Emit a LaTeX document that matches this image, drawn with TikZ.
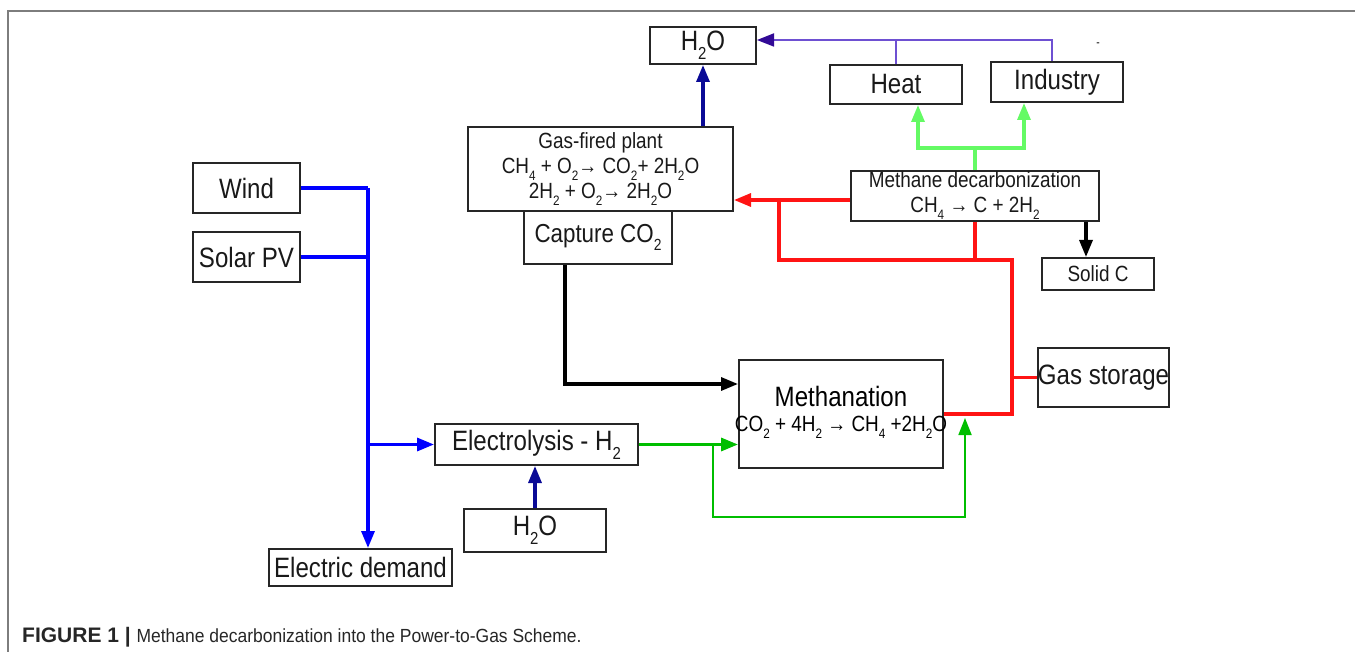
\documentclass[tikz,border=0pt]{standalone}
\usepackage{fontspec}
\setmainfont[FakeStretch=0.86]{Liberation Sans}
\newfontfamily\capfont[FakeStretch=0.92]{Liberation Sans}
\newfontfamily\capbfont{Liberation Sans}
\usetikzlibrary{arrows.meta}
\definecolor{elblue}{RGB}{0,0,255}
\definecolor{navyb}{RGB}{10,10,150}
\definecolor{violetl}{RGB}{110,80,210}
\definecolor{violetd}{RGB}{50,10,150}
\definecolor{lgreen}{RGB}{100,250,100}
\definecolor{dgreen}{RGB}{0,190,0}
\definecolor{rline}{RGB}{255,20,20}
\definecolor{framegray}{RGB}{125,125,125}
\newcommand{\sbs}[1]{\raisebox{-0.32em}{\scalebox{0.62}{#1}}}
\tikzset{
  box/.style={draw=black!85,line width=2pt,inner sep=0pt,align=center,text=black!90},
  big/.style={font=\fontsize{28}{30}\selectfont},
  small/.style={font=\fontsize{22}{25}\selectfont},
  arr/.style={-{Triangle[length=17pt,width=13pt]}}
}
\begin{document}
\begin{tikzpicture}[x=1pt,y=-1pt,
  bline/.style={draw=elblue,line width=3.2pt},
  nline/.style={draw=navyb,line width=3.2pt},
  vline/.style={draw=violetl,line width=1.8pt},
  lgline/.style={draw=lgreen,line width=3.2pt},
  rline/.style={draw=rline,line width=3.2pt},
  kline/.style={draw=black,line width=3.2pt},
  gline/.style={draw=dgreen,line width=3.2pt},
  gthin/.style={draw=dgreen,line width=1.8pt}]
\useasboundingbox (0,0) rectangle (1355,652);
% frame
\draw[framegray,line width=2pt] (8,652) -- (8,11) -- (1355,11);

% boxes
\node[box,big,minimum width=106pt,minimum height=37pt] (h2otop) at (703,45.5) {H\sbs{2}O};
\node[box,big,minimum width=132pt,minimum height=39pt] (heat) at (896,84.5) {Heat};
\node[box,big,minimum width=132pt,minimum height=40pt] (industry) at (1057,82) {Industry};
\node[box,small,minimum width=265pt,minimum height=84pt] (gasplant) at (600.5,169)
  {Gas-fired plant\\CH\sbs{4} + O\sbs{2}→ CO\sbs{2}+ 2H\sbs{2}O\\2H\sbs{2} + O\sbs{2}→ 2H\sbs{2}O};
\node[box,font=\fontsize{26}{28}\selectfont,minimum width=148pt,minimum height=53pt] (capture) at (598,237.5) {Capture CO\sbs{2}};
\node[box,small,minimum width=248pt,minimum height=50pt] (decarb) at (975,196)
  {Methane decarbonization\\CH\sbs{4} → C + 2H\sbs{2}};
\node[box,small,minimum width=112pt,minimum height=32pt] (solidc) at (1098,274) {Solid C};
\node[box,big,minimum width=107pt,minimum height=50pt] (wind) at (246.5,188) {Wind};
\node[box,big,minimum width=107pt,minimum height=50pt] (solar) at (246.5,257) {Solar PV};
\node[box,big,minimum width=131pt,minimum height=59pt] (storage) at (1103.5,377.5) {Gas storage};
\node[box,minimum width=204pt,minimum height=108pt] (meth) at (841,414) {};
\node[big,inner sep=0pt] (methtxt) at (841,396) {Methanation};
\node[small,inner sep=0pt] (methfrm) at (841,427) {CO\sbs{2} + 4H\sbs{2} → CH\sbs{4} +2H\sbs{2}O};
\node[box,big,minimum width=203pt,minimum height=41pt] (electro) at (536.5,444.5) {Electrolysis - H\sbs{2}};
\node[box,big,minimum width=142pt,minimum height=43pt] (h2obot) at (535,530.5) {H\sbs{2}O};
\node[box,big,minimum width=183pt,minimum height=37pt] (demand) at (360.5,567.5) {Electric demand};
\node[font=\fontsize{12}{12}\selectfont,inner sep=0pt] (mark) at (1098,45) {-};

% electricity
\coordinate (bus) at (368,188);
\draw[bline] (wind.east) -- (bus);
\draw[bline,arr] (bus) -- (bus |- demand.north);
\draw[bline] (solar.east) -- (solar.east -| bus);
\draw[bline,arr] (bus |- electro.west) -- (electro.west);

% water
\draw[nline,arr] (h2obot.north) -- (h2obot.north |- electro.south);
\draw[nline,arr] (gasplant.north -| h2otop) -- (h2otop.south);

% heat and industry
\coordinate (vbus) at (1052,40);
\draw[vline] (heat.north) -- (heat.north |- vbus);
\draw[vline,-{Triangle[length=17pt,width=13pt,color=violetd]}] (industry.north -| vbus) -- (vbus) -- (vbus -| h2otop.east);
\coordinate (gbus) at (975,148);
\coordinate (gh) at (918,148);
\coordinate (gi) at (1024,148);
\draw[lgline] (decarb.north) -- (gbus);
\draw[lgline,arr] (gbus) -- (gh) -- (gh |- heat.south);
\draw[lgline,arr] (gbus) -- (gi) -- (gi |- industry.south);

% methane / hydrogen
\coordinate (rj) at (779,260);
\coordinate (rk) at (1012,260);
\draw[rline,arr] ([yshift=-4pt]decarb.west) -- ([yshift=-4pt]decarb.west -| gasplant.east);
\draw[rline] ([yshift=-4pt]decarb.west -| rj) -- (rj) -- (rk) -- (rk |- meth.east) -- (meth.east);
\draw[rline] (decarb.south) -- (decarb.south |- rk);
\draw[rline] (storage.west) -- (storage.west -| rk);

% carbon
\coordinate (sc) at (1086,274);
\draw[kline,arr] (decarb.south -| sc) -- (solidc.north -| sc);
\coordinate (cc) at (565,384);
\draw[kline,arr] (capture.south -| cc) -- (cc) -- (cc -| meth.west);

% hydrogen to methanation
\coordinate (ga) at (713,517);
\coordinate (gb) at (965,517);
\coordinate (gt) at (965,418);
\draw[gline,arr] (electro.east) -- (electro.east -| meth.west);
\draw[gthin,arr] (electro.east -| ga) -- (ga) -- (gb) -- (gt);

% caption
\node[anchor=base west,inner sep=0pt,text=black!85] (caption) at (22,642)
  {\capbfont\fontsize{21}{22}\selectfont\textbf{FIGURE 1 |} \capfont\fontsize{19}{20}\selectfont Methane decarbonization into the Power-to-Gas Scheme.};
\end{tikzpicture}
\end{document}
